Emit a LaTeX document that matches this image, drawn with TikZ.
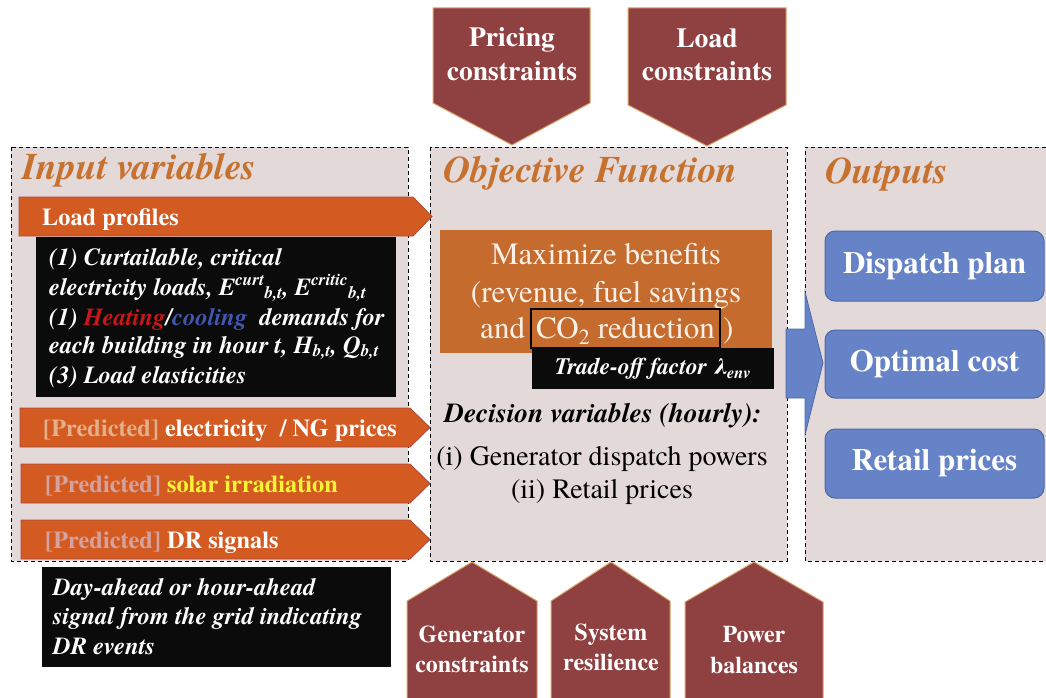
\documentclass[tikz,border=0pt]{standalone}
\usepackage{fontspec}
\IfFontExistsTF{texgyretermes-regular.otf}{%
  \setmainfont{texgyretermes}[Extension=.otf, UprightFont=*-regular, BoldFont=*-bold, ItalicFont=*-italic, BoldItalicFont=*-bolditalic]}{%
  \setmainfont{Liberation Serif}}
\definecolor{boxbg}{HTML}{E3D9D9}
\definecolor{titlec}{HTML}{C7712F}
\definecolor{barc}{HTML}{D35B22}
\definecolor{barb}{HTML}{B0483A}
\definecolor{blk}{HTML}{0B0B0B}
\definecolor{objc}{HTML}{C56B2E}
\definecolor{objtext}{HTML}{FAF0E6}
\definecolor{maroon}{HTML}{8F4040}
\definecolor{tanc}{HTML}{DCA468}
\definecolor{bluec}{HTML}{6683C7}
\definecolor{blueb}{HTML}{4D68A8}
\definecolor{heat}{HTML}{C8161D}
\definecolor{cool}{HTML}{4058B4}
\definecolor{predA}{HTML}{E3B08A}
\definecolor{predB}{HTML}{D4A3A0}
\definecolor{solar}{HTML}{F8F536}
\newcommand\fsz[1]{\fontsize{#1}{#1}\selectfont}
\tikzset{
  dbox/.style={fill=boxbg, draw=black, dash pattern=on 4pt off 3pt, line width=1pt},
  ttl/.style={anchor=base west, inner sep=0pt, text=titlec, font=\fsz{37.5}\bfseries\itshape},
  bar/.style={fill=barc, draw=barb, line width=0.8pt},
  bartxt/.style={anchor=base west, inner sep=0pt, text=white, font=\fsz{24.3}\bfseries},
  blkbox/.style={fill=blk, anchor=north west, inner sep=0pt},
  blkline/.style={anchor=base west, inner sep=0pt, text=white, font=\fsz{24.5}\bfseries\itshape},
  pentfill/.style={fill=maroon},
  pentedge/.style={draw=tanc, line width=1pt},
  penttxt/.style={anchor=base, inner sep=0pt, text=white, font=\fsz{27.6}\bfseries},
  penttxtb/.style={anchor=base, inner sep=0pt, text=white, font=\fsz{24}\bfseries},
  objtxt/.style={anchor=base, inner sep=0pt, text=objtext, font=\fsz{31}},
  dectxt/.style={anchor=base, inner sep=0pt, text=black, font=\fsz{28}},
  outbox/.style={rounded corners=10pt, fill=bluec, draw=blueb, line width=1pt, minimum width=219pt, text=white, font=\fsz{31}\bfseries, inner sep=0pt},
  bluearrow/.style={fill=bluec, draw=blueb, line width=0.8pt},
}
\begin{document}
\begin{tikzpicture}[x=1pt,y=-1pt]
\useasboundingbox (0,0) rectangle (1046,698);

% ---- top constraint pentagons
\path[pentfill] (433,8) -- (590,8) -- (590,103) -- (512,145) -- (433,103) -- cycle;
\draw[pentedge] (433,8) -- (590,8) -- (590,103) -- (512,145) -- (433,103) -- cycle;
\node[penttxt] (pr1) at (512,47) {Pricing};
\node[penttxt] (pr2) at (512,81) {constraints};
\path[pentfill] (628,8) -- (786,8) -- (786,105) -- (707,146) -- (628,105) -- cycle;
\draw[pentedge] (628,8) -- (786,8) -- (786,105) -- (707,146) -- (628,105) -- cycle;
\node[penttxt] (ld1) at (707,48) {Load};
\node[penttxt] (ld2) at (707,81) {constraints};

% ---- three dashed boxes
\path[dbox] (11,147) rectangle (408,561);
\path[dbox] (430,147) rectangle (787,561);
\fill[boxbg] (805,147) rectangle (1046,561);
\draw[black, dash pattern=on 4pt off 3pt, line width=1pt] (1046,147) -- (805,147) -- (805,561) -- (1046,561);

% ---- titles
\node[ttl] (tin) at (22,179) {Input variables};
\node[ttl] (tobj) at (443,182) {Objective Function};
\node[ttl] (tout) at (825,183) {Outputs};

% ---- input bars
\draw[bar] (19,197) -- (413,197) -- (432,216.5) -- (413,236) -- (19,236) -- cycle;
\node[bartxt] (b1) at (42,225) {Load profiles};
\draw[bar] (20,408) -- (410,408) -- (430,427.5) -- (410,447) -- (20,447) -- cycle;
\node[bartxt] (b2) at (43,436) {\textcolor{predA}{[Predicted]} electricity~ / NG prices};
\draw[bar] (21,464) -- (410,464) -- (430,483.5) -- (410,503) -- (21,503) -- cycle;
\node[bartxt] (b3) at (45,492) {\textcolor{predB}{[Predicted]} \textcolor{solar}{solar irradiation}};
\draw[bar] (21,520) -- (410,520) -- (430,539.5) -- (410,559) -- (21,559) -- cycle;
\node[bartxt] (b4) at (45,548) {\textcolor{predB}{[Predicted]} DR signals};

% ---- black box: load profile details
\node[blkbox, minimum width=360pt, minimum height=160pt] (lpbox) at (36,237) {};
\node[blkline] (l1) at (49,265) {(1) Curtailable, critical};
\node[blkline] (l2) at (49,295) {electricity loads, E\textsuperscript{curt}\textsubscript{b,t}, E\textsuperscript{critic}\textsubscript{b,t}};
\node[blkline] (l3) at (49,325) {(1) \textcolor{heat}{Heating}/\textcolor{cool}{cooling}~ demands for};
\node[blkline] (l4) at (49,353) {each building in hour t, H\textsubscript{b,t}, Q\textsubscript{b,t}};
\node[blkline] (l5) at (49,383) {(3) Load elasticities};

% ---- black box: DR signal details
\node[blkbox, minimum width=349pt, minimum height=100pt] (drbox) at (42,567) {};
\node[blkline] (d1) at (53,595) {Day-ahead or hour-ahead};
\node[blkline] (d2) at (53,624) {signal from the grid indicating};
\node[blkline] (d3) at (53,654) {DR events};

% ---- objective
\node[fill=objc, anchor=north west, minimum width=332pt, minimum height=123pt, inner sep=0pt] (objbox) at (440,230) {};
\node[objtxt] (o1) at (606,264) {Maximize benefits};
\node[objtxt] (o2) at (606,302) {(revenue, fuel savings};
\node[objtxt, draw=black, line width=1.6pt, text height=29pt, text depth=10pt, minimum width=189pt] (co2) at (625.5,338) {CO\textsubscript{2} reduction};
\node[objtxt, anchor=base east] (o3a) at ([xshift=-5pt]co2.west |- co2.base) {and};
\node[objtxt, anchor=base west] (o3b) at ([xshift=2pt]co2.east |- co2.base) {)};
\node[fill=blk, minimum width=242pt, minimum height=41pt, inner sep=0pt, text=white, font=\fsz{23.5}\bfseries\itshape] (trade) at (653,368.5) {Trade-off factor λ\textsubscript{env}};

\node[dectxt, font=\fsz{27.5}\bfseries\itshape] (dv) at (603,422) {Decision variables (hourly):};
\node[dectxt] (dv1) at (602,465) {(i) Generator dispatch powers};
\node[dectxt] (dv2) at (602,498) {(ii) Retail prices};

% ---- block arrow to outputs
\draw[bluearrow] (786,329) -- (805,329) -- (805,292) -- (823,363) -- (805,435) -- (805,398) -- (786,398) -- cycle;

% ---- outputs
\node[outbox, minimum height=70pt] (op1) at (934.5,266) {Dispatch plan};
\node[outbox, minimum height=68pt] (op2) at (934.5,364) {Optimal cost};
\node[outbox, minimum height=69pt] (op3) at (934.5,463.5) {Retail prices};

% ---- bottom constraint pentagons
\path[pentfill] (407,698) -- (407,601) -- (472,562) -- (537,601) -- (537,698) -- cycle;
\draw[pentedge] (407,698) -- (407,601) -- (472,562) -- (537,601) -- (537,698);
\node[penttxtb] (g1) at (472,642) {Generator};
\node[penttxtb] (g2) at (472,672) {constraints};
\path[pentfill] (551,698) -- (551,601) -- (611,562) -- (670,601) -- (670,698) -- cycle;
\draw[pentedge] (551,698) -- (551,601) -- (611,562) -- (670,601) -- (670,698);
\node[penttxtb] (s1) at (611,640) {System};
\node[penttxtb] (s2) at (611,670) {resilience};
\path[pentfill] (685,698) -- (685,602) -- (754,562) -- (823,602) -- (823,698) -- cycle;
\draw[pentedge] (685,698) -- (685,602) -- (754,562) -- (823,602) -- (823,698);
\node[penttxtb] (p1) at (754,642) {Power};
\node[penttxtb] (p2) at (754,673) {balances};
\end{tikzpicture}
\end{document}
